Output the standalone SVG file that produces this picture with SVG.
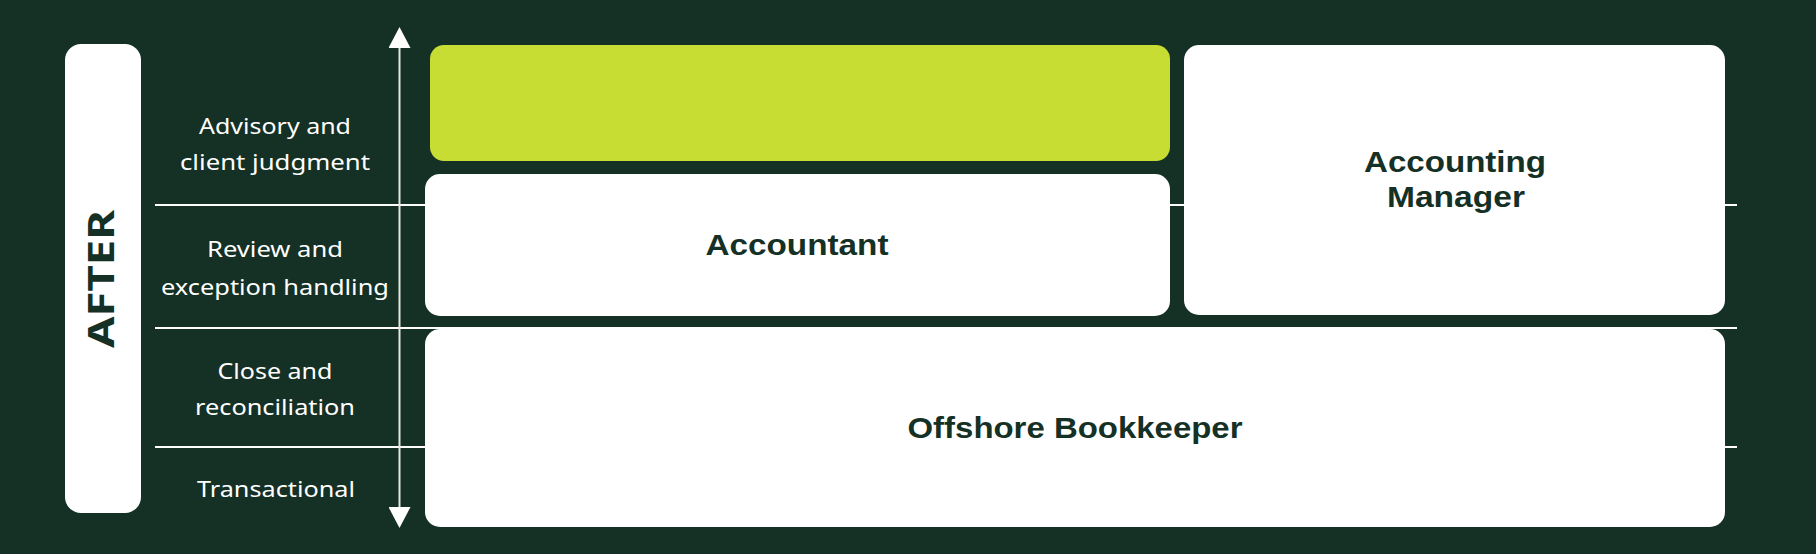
<svg xmlns="http://www.w3.org/2000/svg" width="1816" height="554" viewBox="0 0 1816 554">
  <defs>
    <style>
      .bg { fill: #153024; }
      .card { fill: #ffffff; }
      .lime { fill: #c8dd33; }
      .div { stroke: #ffffff; stroke-width: 2; }
      .axis { stroke: #e6e6e6; stroke-width: 2; fill: none; }
      .lab { font-family: "Noto Sans", "Liberation Sans", sans-serif; font-size: 22px; fill: #ffffff; text-anchor: middle; }
      .node { font-family: "Liberation Sans", Arial, sans-serif; font-size: 30px; font-weight: 700; fill: #153024; text-anchor: middle; }
      .side { font-family: "Noto Sans", "Liberation Sans", sans-serif; font-size: 35px; font-weight: 700; fill: #153024; text-anchor: middle; }
    </style>
    <marker id="head" markerUnits="userSpaceOnUse" markerWidth="22" markerHeight="22" viewBox="0 0 21 22" refX="0" refY="11" orient="auto-start-reverse">
      <path d="M0,0 L21,11 L0,22 Z" fill="#ffffff"/>
    </marker>
  </defs>

  <rect class="bg" x="0" y="0" width="1816" height="554"/>

  <g id="row-dividers">
    <line class="div" x1="155" y1="205" x2="1737" y2="205"/>
    <line class="div" x1="155" y1="328" x2="1737" y2="328"/>
    <line class="div" x1="155" y1="447" x2="1737" y2="447"/>
  </g>

  <g id="row-labels">
    <text class="lab" x="275" y="134" textLength="152" lengthAdjust="spacingAndGlyphs">Advisory and</text>
    <text class="lab" x="275" y="170" textLength="190" lengthAdjust="spacingAndGlyphs">client judgment</text>
    <text class="lab" x="275" y="257" textLength="136" lengthAdjust="spacingAndGlyphs">Review and</text>
    <text class="lab" x="275" y="295" textLength="228" lengthAdjust="spacingAndGlyphs">exception handling</text>
    <text class="lab" x="275" y="379" textLength="115" lengthAdjust="spacingAndGlyphs">Close and</text>
    <text class="lab" x="275" y="415" textLength="160" lengthAdjust="spacingAndGlyphs">reconciliation</text>
    <text class="lab" x="276" y="497" textLength="158" lengthAdjust="spacingAndGlyphs">Transactional</text>
  </g>

  <g id="after">
    <rect class="card" x="65" y="44" width="76" height="469" rx="16"/>
    <text class="side" transform="translate(114 279) rotate(-90)" x="0" y="0" textLength="138" lengthAdjust="spacingAndGlyphs">AFTER</text>
  </g>

  <g id="advisory-block">
    <rect class="lime" x="430" y="45" width="740" height="116" rx="14"/>
  </g>

  <g id="accountant">
    <rect class="card" x="425" y="174" width="745" height="142" rx="15"/>
    <text class="node" x="797" y="255" textLength="183" lengthAdjust="spacingAndGlyphs">Accountant</text>
  </g>

  <g id="accounting-manager">
    <rect class="card" x="1184" y="45" width="541" height="270" rx="15"/>
    <text class="node" x="1455" y="172" textLength="182" lengthAdjust="spacingAndGlyphs">Accounting</text>
    <text class="node" x="1456" y="207" textLength="138" lengthAdjust="spacingAndGlyphs">Manager</text>
  </g>

  <g id="offshore-bookkeeper">
    <rect class="card" x="425" y="329" width="1300" height="198" rx="15"/>
    <text class="node" x="1075" y="438" textLength="335" lengthAdjust="spacingAndGlyphs">Offshore Bookkeeper</text>
  </g>

  <g id="connectors">
    <line class="axis" x1="399.5" y1="48" x2="399.5" y2="507" marker-start="url(#head)" marker-end="url(#head)"/>
  </g>
</svg>
